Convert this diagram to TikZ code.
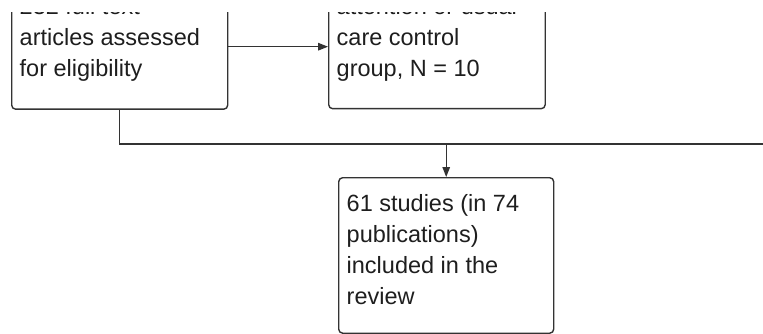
\documentclass[tikz,border=0pt]{standalone}
\usepackage{fontspec}
\setmainfont{Liberation Sans}
\usetikzlibrary{arrows.meta}
\definecolor{linec}{HTML}{333333}
\definecolor{txtc}{HTML}{1E1E1E}
\tikzset{
  boxn/.style={draw=linec, line width=1.4pt, rounded corners=4pt, inner sep=0pt, anchor=north west},
  lbl/.style={anchor=base west, inner sep=0pt, text=txtc, font=\fontsize{23.5}{31}\selectfont},
  conn/.style={draw=linec, line width=1.4pt},
  arr/.style={conn, -{Triangle[length=10pt,width=7.5pt]}}
}
\begin{document}
\begin{tikzpicture}[x=1pt,y=-1pt]
\useasboundingbox (0,0) rectangle (763,334);
\fill[white] (0,0) rectangle (763,334);
\clip (0,12.5) rectangle (763,334);
% boxes
\node[boxn, minimum width=216pt, minimum height=125pt] (lb) at (11,-16.5) {};
\node[boxn, minimum width=216.5pt, minimum height=124pt] (mb) at (328,-16) {};
\node[boxn, minimum width=215pt, minimum height=155.5pt] (bb) at (338,177) {};
% texts
\node[lbl] (l1) at (19.5,15) {232 full text};
\node[lbl] (l2) at (19.5,46) {articles assessed};
\node[lbl] (l3) at (19.5,77) {for eligibility};
\node[lbl] (m1) at (336.5,15) {attention or usual};
\node[lbl] (m2) at (336.5,46) {care control};
\node[lbl] (m3) at (336.5,77) {group, N = 10};
\node[lbl] (b1) at (346.5,211) {61 studies (in 74};
\node[lbl] (b2) at (346.5,242) {publications)};
\node[lbl] (b3) at (346.5,273) {included in the};
\node[lbl] (b4) at (346.5,304) {review};
% connectors
\coordinate (rt) at (775,144);
\draw[arr] (lb.east) -- (mb.west);
\draw[conn] (lb.south) |- (rt);
\draw[arr] (bb.north |- rt) -- (bb.north);
\end{tikzpicture}
\end{document}
